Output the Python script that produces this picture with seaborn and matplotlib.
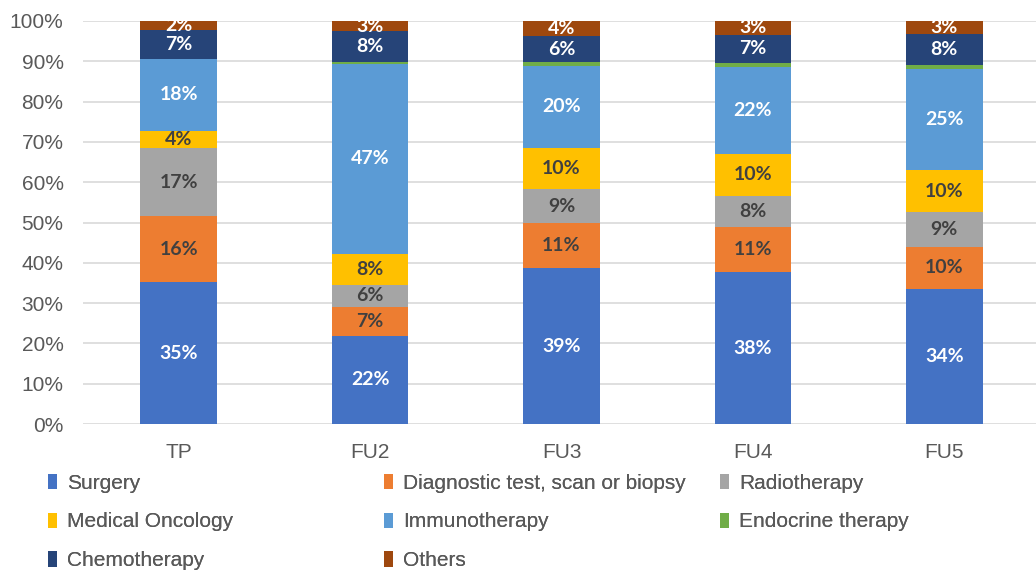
import numpy as np
import pandas as pd
import matplotlib
matplotlib.use("Agg")
import matplotlib.pyplot as plt
import seaborn as sns
from matplotlib.ticker import PercentFormatter
from matplotlib.patches import Patch

periods = ["TP", "FU2", "FU3", "FU4", "FU5"]
categories = ["Surgery", "Diagnostic test, scan or biopsy", "Radiotherapy",
              "Medical Oncology", "Immunotherapy", "Endocrine therapy",
              "Chemotherapy", "Others"]
surgery = [35.2, 21.9, 38.6, 37.6, 33.6]
diagnostic = [16.4, 7.1, 11.2, 11.4, 10.3]
radiotherapy = [16.8, 5.6, 8.5, 7.6, 8.7]
medical_oncology = [4.4, 7.7, 10.3, 10.4, 10.4]
immunotherapy = [17.7, 47.0, 20.3, 21.6, 25.0]
endocrine = [0.0, 0.5, 0.9, 1.0, 1.0]
chemotherapy = [7.2, 7.6, 6.4, 7.0, 7.7]
others = [2.3, 2.6, 3.8, 3.4, 3.3]

series = [surgery, diagnostic, radiotherapy, medical_oncology,
          immunotherapy, endocrine, chemotherapy, others]
colors = ["#4472C4", "#ED7D31", "#A5A5A5", "#FFC000",
          "#5B9BD5", "#70AD47", "#264478", "#9E480E"]
label_colors = ["white", "#404040", "#404040", "#404040",
                "white", None, "white", "white"]

rows = []
for cat, vals in zip(categories, series):
    for p, v in zip(periods, vals):
        rows.append({"period": p, "category": cat, "value": v})
df = pd.DataFrame(rows)
df["period"] = pd.Categorical(df["period"], categories=periods, ordered=True)

sns.set_theme(style="white")
plt.rcParams["font.family"] = ["Liberation Sans", "DejaVu Sans"]

fig = plt.figure(figsize=(10.36, 5.72), dpi=100)
ax = fig.add_axes([83 / 1036, 148 / 572, 957 / 1036, 403 / 572])

palette = dict(zip(categories, colors))
sns.histplot(data=df, x="period", weights="value", hue="category",
             hue_order=categories[::-1], multiple="fill", discrete=True,
             shrink=0.4, palette=palette, alpha=1, linewidth=0,
             legend=False, ax=ax)

# data labels
for i, p in enumerate(periods):
    bottom = 0.0
    for cat, vals, lc in zip(categories, series, label_colors):
        v = vals[i]
        if lc is not None and v > 0:
            ax.text(i, (bottom + v / 2) / 100, f"{int(v + 0.5)}%",
                    ha="center", va="center", color=lc, fontsize=14,
                    fontweight="bold", family=["Lato", "DejaVu Sans"],
                    clip_on=False, zorder=5)
        bottom += v

ax.set_xlim(-0.5, 4.5)
ax.set_ylim(0, 1)
ax.set_yticks(np.arange(0, 1.01, 0.1))
ax.yaxis.set_major_formatter(PercentFormatter(1.0, decimals=0))
ax.set_xlabel("")
ax.set_ylabel("")
ax.yaxis.grid(True, color="#D9D9D9", linewidth=1.2)
ax.xaxis.grid(False)
ax.set_axisbelow(True)
for s in ax.spines.values():
    s.set_visible(False)
ax.tick_params(axis="y", length=0, pad=14, labelsize=15, labelcolor="#595959")
ax.tick_params(axis="x", length=0, pad=14, labelsize=15, labelcolor="#595959")

# legend: three columns placed at fixed positions
cols = [[0, 3, 6], [1, 4, 7], [2, 5]]
xs = [48 / 1036, 384 / 1036, 720 / 1036]
for col, x in zip(cols, xs):
    handles = [Patch(facecolor=colors[k], edgecolor="none", label=categories[k]) for k in col]
    leg = fig.legend(handles=handles, loc="upper left", bbox_to_anchor=(x, 0.172),
                     frameon=False, fontsize=15, handlelength=0.42, handleheight=0.75,
                     handletextpad=0.5, labelspacing=0.95, borderpad=0, borderaxespad=0)
    for t in leg.get_texts():
        t.set_color("#595959")
    fig.add_artist(leg)

fig.savefig("out.png", dpi=100)
